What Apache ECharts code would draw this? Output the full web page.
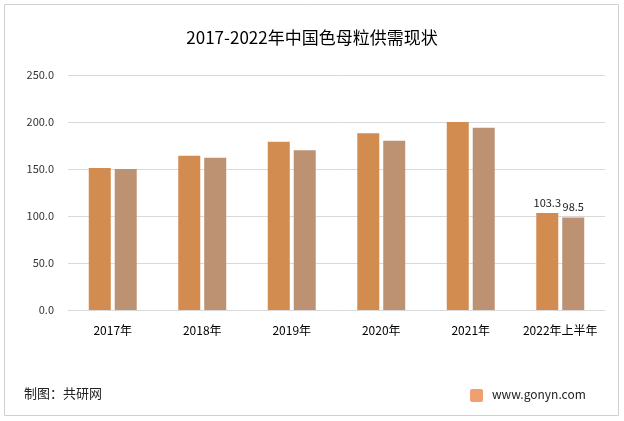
<!DOCTYPE html>
<html>
<head>
<meta charset="utf-8">
<script src="https://cdn.jsdelivr.net/npm/echarts@6/dist/echarts.min.js"></script>
<style>
  html, body { margin: 0; padding: 0; background: #fff; }
  #chart { width: 624px; height: 421px; }
</style>
</head>
<body>
<div id="chart"></div>
<script>
var categories = ['2017年', '2018年', '2019年', '2020年', '2021年', '2022年上半年'];
var supply = [151, 164, 179, 188, 200, 103.3];
var demand = [150, 162, 170, 180, 194, 98.5];

var myChart = echarts.init(document.getElementById('chart'));

var option = {
    backgroundColor: '#fff',
    textStyle: { fontFamily: 'Noto Sans CJK SC' },
    title: {
        text: '2017-2022年中国色母粒供需现状',
        left: 'center',
        top: 24,
        textStyle: { fontSize: 17, fontWeight: 'normal', color: '#000', fontFamily: 'Noto Sans CJK SC' }
    },
    graphic: [
        { type: 'rect', shape: { x: 4.5, y: 4.5, width: 614, height: 411 },
          style: { fill: 'none', stroke: '#d0d0d0', lineWidth: 1 } },
        { type: 'text', left: 24, top: 387,
          style: { text: '制图：共研网', fontSize: 13, fill: '#222', fontFamily: 'Noto Sans CJK SC' } },
        { type: 'rect', shape: { x: 470, y: 389, width: 13, height: 13, r: 2 },
          style: { fill: '#f0a070' } },
        { type: 'text', left: 492, top: 388,
          style: { text: 'www.gonyn.com', fontSize: 12, fill: '#222', fontFamily: 'Noto Sans CJK SC' } }
    ],
    grid: { left: 68, right: 19, top: 75, bottom: 111 },
    xAxis: {
        type: 'category',
        data: categories,
        axisLine: { lineStyle: { color: '#d9d9d9' } },
        axisTick: { show: false },
        axisLabel: { color: '#000', fontSize: 12, margin: 14, interval: 0 }
    },
    yAxis: {
        type: 'value',
        min: 0, max: 250, interval: 50,
        axisLine: { show: false },
        axisTick: { show: false },
        splitLine: { lineStyle: { color: '#d9d9d9' } },
        axisLabel: { color: '#333', fontSize: 11, margin: 14, formatter: function (v) { return v.toFixed(1); } }
    },
    series: [
        {
            name: '供给', type: 'bar', data: supply, barWidth: 22, barGap: '18%',
            itemStyle: { color: '#D38C4F', borderWidth: 0 },
            label: { show: true, position: 'top', fontSize: 11, color: '#222',
                     formatter: function (p) { return p.dataIndex === 5 ? p.value : ''; } }
        },
        {
            name: '需求', type: 'bar', data: demand, barWidth: 22,
            itemStyle: { color: '#BC9272', borderWidth: 0 },
            label: { show: true, position: 'top', fontSize: 11, color: '#222',
                     formatter: function (p) { return p.dataIndex === 5 ? p.value : ''; } }
        }
    ]
};

myChart.setOption(option);
</script>
</body>
</html>
